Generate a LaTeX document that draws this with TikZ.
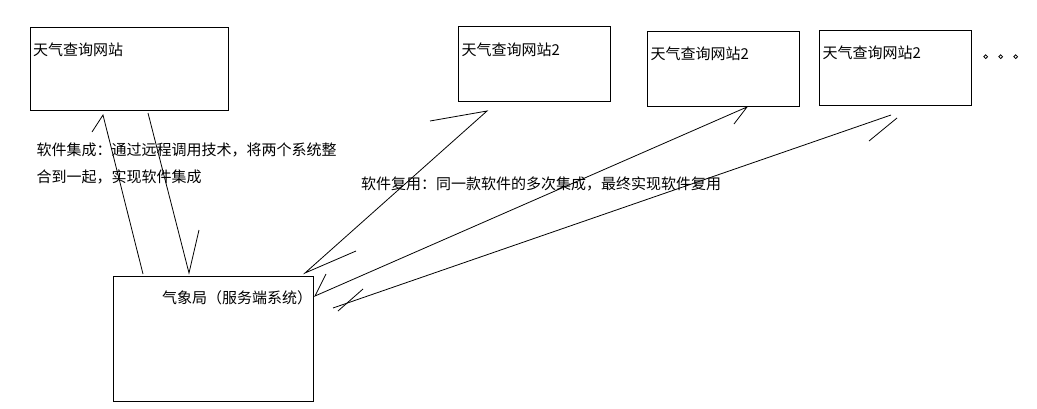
\documentclass[tikz,border=0pt]{standalone}
\usepackage{fontspec}
\setmainfont{Noto Sans CJK SC}
\begin{document}
\begin{tikzpicture}[x=1pt,y=-1pt,
  box/.style={draw,line width=1pt,rectangle,inner sep=0pt,outer sep=0pt,anchor=north west},
  lbl/.style={anchor=west,inner sep=0pt,font=\fontsize{15}{18}\selectfont},
  wire/.style={line width=0.8pt},
  dot/.style={draw,circle,line width=0.8pt,minimum size=3.8pt,inner sep=0pt}]
\useasboundingbox (0,0) rectangle (1037,408);
% boxes
\node[box,minimum width=198pt,minimum height=83pt] (web1) at (30,27) {};
\node[box,minimum width=152.5pt,minimum height=75pt] (web2) at (458,26) {};
\node[box,minimum width=152.5pt,minimum height=74.5pt] (web3) at (647,31.5) {};
\node[box,minimum width=152.5pt,minimum height=74.5pt] (web4) at (819,30.5) {};
\node[box,minimum width=200pt,minimum height=125pt] (qxj) at (113,276) {};
% labels
\node[lbl] (t1) at (33,50) {天气查询网站};
\node[lbl] (t2) at (461.5,49.5) {天气查询网站2};
\node[lbl] (t3) at (650.5,53.5) {天气查询网站2};
\node[lbl] (t4) at (822.5,52.5) {天气查询网站2};
\node[lbl] (t5) at (162,298) {气象局（服务端系统）};
\node[lbl] (n1) at (36.5,150) {软件集成：通过远程调用技术，将两个系统整};
\node[lbl] (n2) at (36.5,176.5) {合到一起，实现软件集成};
\node[lbl] (n3) at (361,183.5) {软件复用：同一款软件的多次集成，最终实现软件复用};
% ellipsis dots
\node[dot] (d1) at (985.7,56.7) {};
\node[dot] (d2) at (1000.7,56.7) {};
\node[dot] (d3) at (1015.7,56.7) {};
% arrow end points
\coordinate (p1a) at (143,274); \coordinate (p1b) at (103,115); \coordinate (q1) at (92,132);
\coordinate (p2a) at (148,113); \coordinate (p2b) at (189,273); \coordinate (q2) at (199,230);
\coordinate (pa1) at (305,273); \coordinate (pa2) at (487,111);
\coordinate (qa1) at (356,251); \coordinate (qa2) at (430,121);
\coordinate (pb1) at (315,296); \coordinate (pb2) at (747,107);
\coordinate (qb1) at (326,274); \coordinate (qb2) at (734,124);
\coordinate (pc1) at (333,308); \coordinate (pc2) at (891,115);
\coordinate (rc1) at (338,311); \coordinate (qc1) at (363,289);
\coordinate (rc2) at (897,118); \coordinate (qc2) at (869,141);
% connectors
\draw[wire] (q1) -- (p1b) -- (p1a);
\draw[wire] (p2a) -- (p2b) -- (q2);
\draw[wire] (qa1) -- (pa1) -- (pa2) -- (qa2);
\draw[wire] (qb1) -- (pb1) -- (pb2) -- (qb2);
\draw[wire] (pc1) -- (pc2);
\draw[wire] (rc1) -- (qc1);
\draw[wire] (rc2) -- (qc2);
\end{tikzpicture}
\end{document}
